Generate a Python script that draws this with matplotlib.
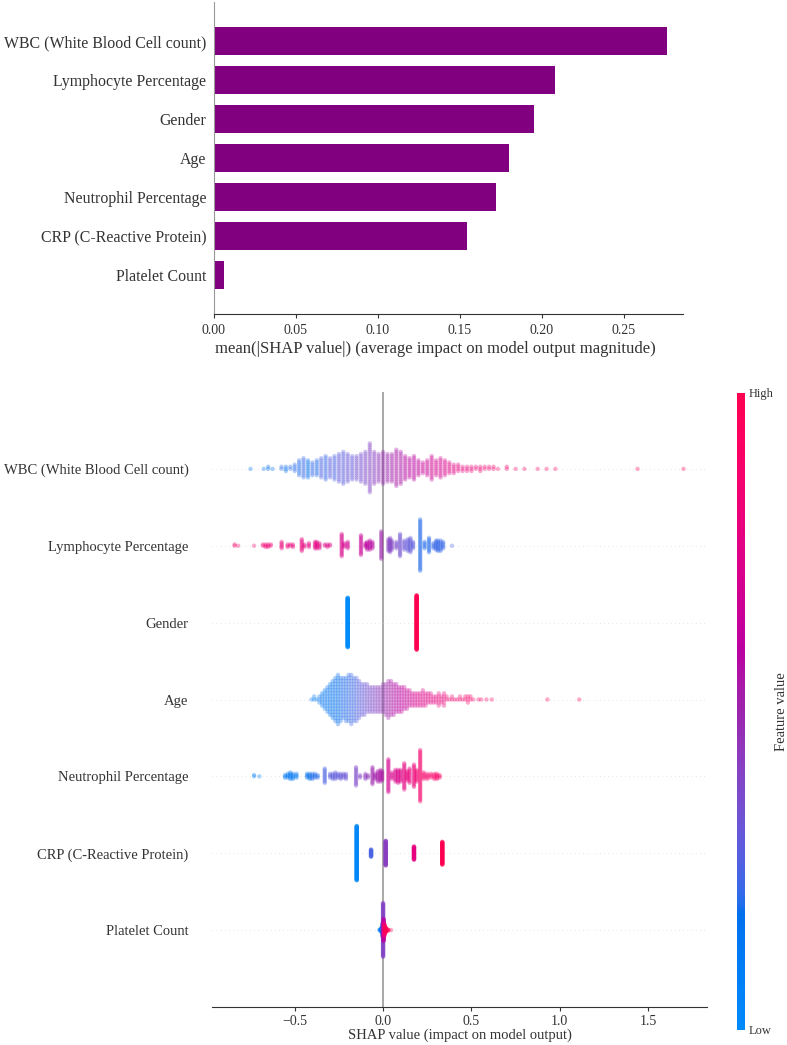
import numpy as np
import matplotlib
matplotlib.use("Agg")
import matplotlib.pyplot as plt
from matplotlib.colors import LinearSegmentedColormap

plt.rcParams['font.family'] = ['Liberation Serif', 'DejaVu Serif']

# ---------------- data ----------------
features = ["WBC (White Blood Cell count)", "Lymphocyte Percentage", "Gender", "Age",
            "Neutrophil Percentage", "CRP (C-Reactive Protein)", "Platelet Count"]
mean_abs_shap = [0.276, 0.208, 0.195, 0.180, 0.172, 0.154, 0.006]
bar_ticks = [0.00, 0.05, 0.10, 0.15, 0.20, 0.25]
swarm_ticks = [-0.5, 0.0, 0.5, 1.0, 1.5]

# beeswarm: binned SHAP values, number of samples per bin, mean feature value (0=low, 1=high)
wbc_shap = [-0.75, -0.675, -0.65, -0.625, -0.575, -0.55, -0.525, -0.50, -0.475, -0.45, -0.425, -0.40,
            -0.375, -0.35, -0.325, -0.30, -0.275, -0.25, -0.225, -0.20, -0.175, -0.15, -0.125, -0.10,
            -0.075, -0.05, -0.025, 0.0, 0.025, 0.05, 0.075, 0.10, 0.125, 0.15, 0.175, 0.20, 0.225, 0.25,
            0.275, 0.30, 0.325, 0.35, 0.375, 0.40, 0.425, 0.45, 0.475, 0.50, 0.525, 0.55, 0.575, 0.60,
            0.625, 0.65, 0.70, 0.75, 0.80, 0.875, 0.925, 0.975, 1.44, 1.70]
wbc_count = [1, 1, 2, 1, 2, 3, 2, 4, 8, 10, 9, 7, 8, 10, 12, 10, 12, 14, 16, 14, 12, 12, 14, 16,
             24, 16, 14, 16, 14, 14, 18, 16, 12, 10, 12, 8, 6, 8, 12, 8, 10, 8, 6, 5, 4, 3, 3, 3,
             2, 3, 2, 2, 2, 1, 2, 1, 1, 1, 1, 1, 1, 1]
wbc_value = [0.15, 0.15, 0.18, 0.15, 0.2, 0.18, 0.2, 0.2, 0.2, 0.22, 0.18, 0.22, 0.2, 0.25, 0.22, 0.28,
             0.25, 0.3, 0.28, 0.32, 0.3, 0.35, 0.35, 0.38, 0.4, 0.42, 0.45, 0.48, 0.5, 0.52, 0.55, 0.55,
             0.58, 0.6, 0.6, 0.62, 0.65, 0.65, 0.68, 0.7, 0.7, 0.72, 0.75, 0.75, 0.78, 0.8, 0.8, 0.82,
             0.82, 0.85, 0.85, 0.85, 0.88, 0.88, 0.88, 0.9, 0.9, 0.9, 0.92, 0.92, 0.95, 0.95]

lym_shap = [-0.84, -0.82, -0.73, -0.68, -0.665, -0.65, -0.635, -0.574, -0.54, -0.525, -0.51, -0.46,
            -0.445, -0.42, -0.385, -0.375, -0.36, -0.33, -0.315, -0.30, -0.234, -0.22, -0.20, -0.125,
            -0.10, -0.09, -0.075, -0.06, -0.01, 0.03, 0.04, 0.05, 0.075, 0.096, 0.12, 0.14, 0.155,
            0.17, 0.21, 0.235, 0.26, 0.285, 0.30, 0.31, 0.325, 0.34, 0.39]
lym_count = [2, 1, 1, 2, 3, 3, 2, 6, 3, 2, 3, 10, 3, 4, 6, 6, 5, 2, 3, 2, 18, 4, 6, 16,
             4, 7, 8, 6, 22, 10, 12, 8, 6, 18, 8, 10, 12, 6, 40, 6, 12, 5, 8, 9, 9, 6, 1]
lym_value = [0.88, 0.88, 0.86, 0.85, 0.85, 0.84, 0.84, 0.82, 0.82, 0.8, 0.8, 0.8, 0.78, 0.78, 0.78,
             0.77, 0.76, 0.76, 0.75, 0.75, 0.72, 0.7, 0.7, 0.66, 0.62, 0.6, 0.6, 0.58, 0.5, 0.42, 0.4,
             0.4, 0.36, 0.34, 0.32, 0.3, 0.3, 0.28, 0.2, 0.2, 0.2, 0.22, 0.22, 0.22, 0.22, 0.22, 0.25]

gen_shap = [-0.20, 0.19]
gen_count = [200, 220]
gen_value = [0.0, 1.0]

age_shap = [-0.405, -0.39, -0.375, -0.36, -0.345, -0.33, -0.315, -0.30, -0.285, -0.27, -0.255, -0.24,
            -0.225, -0.21, -0.195, -0.18, -0.165, -0.15, -0.135, -0.12, -0.105, -0.09, -0.075, -0.06,
            -0.045, -0.03, -0.015, 0.0, 0.015, 0.03, 0.045, 0.06, 0.075, 0.09, 0.105, 0.12, 0.135,
            0.15, 0.165, 0.18, 0.195, 0.21, 0.225, 0.24, 0.255, 0.27, 0.285, 0.30, 0.315, 0.33, 0.345,
            0.36, 0.375, 0.39, 0.405, 0.42, 0.435, 0.45, 0.465, 0.48, 0.495, 0.51, 0.54, 0.555, 0.585,
            0.615, 0.93, 1.11]
age_count = [1, 2, 1, 3, 5, 7, 9, 11, 13, 15, 17, 15, 14, 15, 16, 17, 15, 15, 13, 11, 11, 10, 9, 9,
             9, 9, 9, 10, 11, 13, 12, 11, 10, 9, 9, 8, 7, 6, 5, 5, 5, 5, 6, 5, 4, 4, 3, 3, 5, 3, 5,
             2, 1, 2, 1, 1, 2, 1, 2, 3, 2, 1, 1, 1, 1, 1, 1, 1]
age_value = [0.12, 0.12, 0.14, 0.14, 0.15, 0.15, 0.16, 0.16, 0.17, 0.18, 0.18, 0.19, 0.2, 0.2, 0.21,
             0.22, 0.23, 0.25, 0.28, 0.3, 0.32, 0.34, 0.36, 0.38, 0.4, 0.42, 0.44, 0.46, 0.5, 0.52,
             0.54, 0.56, 0.58, 0.6, 0.62, 0.63, 0.64, 0.65, 0.7, 0.7, 0.72, 0.72, 0.74, 0.75, 0.76,
             0.77, 0.78, 0.78, 0.8, 0.8, 0.8, 0.85, 0.85, 0.85, 0.86, 0.86, 0.87, 0.87, 0.88, 0.88,
             0.88, 0.9, 0.9, 0.9, 0.92, 0.92, 0.95, 0.95]

neu_shap = [-0.73, -0.70, -0.555, -0.54, -0.525, -0.51, -0.49, -0.43, -0.415, -0.40, -0.385, -0.37,
            -0.33, -0.30, -0.285, -0.27, -0.255, -0.24, -0.225, -0.21, -0.153, -0.13, -0.10, -0.085,
            -0.06, -0.045, -0.03, -0.015, -0.005, 0.03, 0.05, 0.07, 0.085, 0.10, 0.12, 0.135, 0.15,
            0.175, 0.19, 0.21, 0.23, 0.25, 0.27, 0.29, 0.305, 0.32]
neu_count = [2, 1, 3, 4, 6, 5, 4, 4, 5, 5, 4, 3, 12, 4, 5, 6, 4, 5, 4, 5, 15, 3, 5, 3,
             14, 5, 9, 10, 8, 26, 6, 10, 11, 10, 21, 8, 12, 18, 10, 40, 6, 5, 4, 5, 5, 3]
neu_value = [0.1, 0.1, 0.12, 0.12, 0.14, 0.14, 0.15, 0.18, 0.18, 0.2, 0.2, 0.2, 0.25, 0.28, 0.28,
             0.3, 0.3, 0.3, 0.32, 0.32, 0.38, 0.4, 0.42, 0.45, 0.5, 0.52, 0.54, 0.55, 0.56, 0.7, 0.72,
             0.72, 0.73, 0.74, 0.78, 0.8, 0.8, 0.82, 0.85, 0.88, 0.88, 0.88, 0.9, 0.9, 0.9, 0.9]

crp_shap = [-0.149, -0.068, 0.015, 0.175, 0.335]
crp_count = [200, 28, 92, 50, 85]
crp_value = [0.02, 0.25, 0.42, 0.78, 1.0]

plt_shap = [-0.02, -0.015, -0.01, -0.006, -0.003, 0.0, 0.003, 0.006, 0.01, 0.015, 0.02, 0.03, 0.045]
plt_count = [2, 4, 8, 14, 30, 120, 50, 30, 20, 12, 6, 3, 1]
plt_value = [0.05, 0.1, 0.1, 0.15, 0.25, 0.4, 0.6, 0.8, 0.9, 0.95, 1.0, 1.0, 1.0]

swarm = [(wbc_shap, wbc_count, wbc_value), (lym_shap, lym_count, lym_value),
         (gen_shap, gen_count, gen_value), (age_shap, age_count, age_value),
         (neu_shap, neu_count, neu_value), (crp_shap, crp_count, crp_value),
         (plt_shap, plt_count, plt_value)]

# ---------------- shap red_blue colormap (LCH interpolation) ----------------
def lch2rgb(l, c, h):
    a = c * np.cos(h); b = c * np.sin(h)
    fy = (l + 16) / 116.0; fx = fy + a / 500.0; fz = fy - b / 200.0
    def finv(t):
        return t ** 3 if t > 6 / 29 else 3 * (6 / 29) ** 2 * (t - 4 / 29)
    X = 0.95047 * finv(fx); Y = finv(fy); Z = 1.08883 * finv(fz)
    r = 3.2406 * X - 1.5372 * Y - 0.4986 * Z
    g = -0.9689 * X + 1.8758 * Y + 0.0415 * Z
    bb = 0.0557 * X - 0.2040 * Y + 1.0570 * Z
    out = []
    for v in (r, g, bb):
        v = 12.92 * v if v <= 0.0031308 else 1.055 * np.sign(v) * abs(v) ** (1 / 2.4) - 0.055
        out.append(min(max(v, 0), 1))
    return out

blue_lch = [54., 70., 4.6588]
red_lch = [54., 90., 0.35470565 + 2 * np.pi]
l_mid = 40.
nsteps = 100
l_vals = list(np.linspace(blue_lch[0], l_mid, nsteps // 2)) + list(np.linspace(l_mid, red_lch[0], nsteps // 2))
c_vals = np.linspace(blue_lch[1], red_lch[1], nsteps)
h_vals = np.linspace(blue_lch[2], red_lch[2], nsteps)
cols = [lch2rgb(l, c, h) for l, c, h in zip(l_vals, c_vals, h_vals)]
red_blue = LinearSegmentedColormap.from_list("red_blue", cols)

# ---------------- figure ----------------
W, H = 787, 1045
fig = plt.figure(figsize=(W / 100, H / 100), dpi=100)
axis_color = "#333333"

def frac(x0, y0, x1, y1):
    return [x0 / W, 1 - y1 / H, (x1 - x0) / W, (y1 - y0) / H]

# ---- top: bar chart ----
ax1 = fig.add_axes(frac(214, 2, 683, 314))
n = len(features)
pos = np.arange(n)[::-1]
ax1.barh(pos, mean_abs_shap, 0.7, align='center', color='#800080')
ax1.set_ylim(-1, n)
ax1.set_xlim(0, 0.286)
ax1.set_yticks(pos)
ax1.set_yticklabels(features, fontsize=11.4, color=axis_color)
ax1.set_xticks(bar_ticks)
ax1.set_xticklabels([f"{t:.2f}" for t in bar_ticks], fontsize=10, color=axis_color)
ax1.tick_params(axis='y', length=0, pad=5.5)
ax1.tick_params(axis='x', length=3, color=axis_color, pad=4)
for s in ('top', 'right'):
    ax1.spines[s].set_visible(False)
ax1.spines['left'].set_color('#999999')
ax1.spines['bottom'].set_color(axis_color)
ax1.set_xlabel("mean(|SHAP value|) (average impact on model output magnitude)",
               fontsize=12, color=axis_color)
ax1.xaxis.set_label_coords(0.471, -0.085)

# ---- bottom: beeswarm ----
ax2 = fig.add_axes(frac(212, 392, 707, 1007))
ax2.axvline(0, color='#999999', zorder=-1, lw=1.2)
row_height = 0.4
for i, (xs, cnts, vals) in enumerate(swarm):
    p = n - 1 - i
    ax2.axhline(p, color='#cccccc', lw=0.5, dashes=(1, 5), zorder=-1)
    X, Y, C = [], [], []
    for x, c, v in zip(xs, cnts, vals):
        for layer in range(c):
            X.append(x)
            Y.append(np.ceil(layer / 2) * ((layer % 2) * 2 - 1))
            C.append(v)
    Y = np.array(Y, dtype=float)
    Y *= 0.9 * (row_height / np.max(Y + 1))
    ax2.scatter(X, p + Y, c=C, cmap=red_blue, vmin=0, vmax=1, s=10, alpha=0.33,
                linewidth=0, zorder=3)
ax2.set_ylim(-1, n)
ax2.set_xlim(-0.968, 1.833)
ax2.set_yticks(pos)
ax2.set_yticklabels(features, fontsize=10.5, color=axis_color)
ax2.set_xticks(swarm_ticks)
ax2.set_xticklabels(["\u22120.5", "0.0", "0.5", "1.0", "1.5"], fontsize=10, color=axis_color)
ax2.tick_params(axis='y', length=0, pad=17)
ax2.tick_params(axis='x', length=3, color=axis_color, pad=3)
for s in ('top', 'right', 'left'):
    ax2.spines[s].set_visible(False)
ax2.spines['bottom'].set_color(axis_color)
ax2.set_xlabel("SHAP value (impact on model output)", fontsize=10.5, color=axis_color)
ax2.xaxis.set_label_coords(0.5, -0.035)

# ---- colorbar ----
cax = fig.add_axes(frac(737, 393, 745, 1030))
sm = plt.cm.ScalarMappable(cmap=red_blue, norm=plt.Normalize(0, 1))
cb = fig.colorbar(sm, cax=cax, ticks=[0, 1])
cb.set_ticklabels(["Low", "High"])
cb.ax.tick_params(labelsize=9, length=0, pad=3, colors=axis_color)
cb.outline.set_visible(False)
cb.set_label("Feature value", size=10.5, color=axis_color)
cb.ax.yaxis.set_label_coords(4.75, 0.5)

fig.savefig("out.png", dpi=100)
